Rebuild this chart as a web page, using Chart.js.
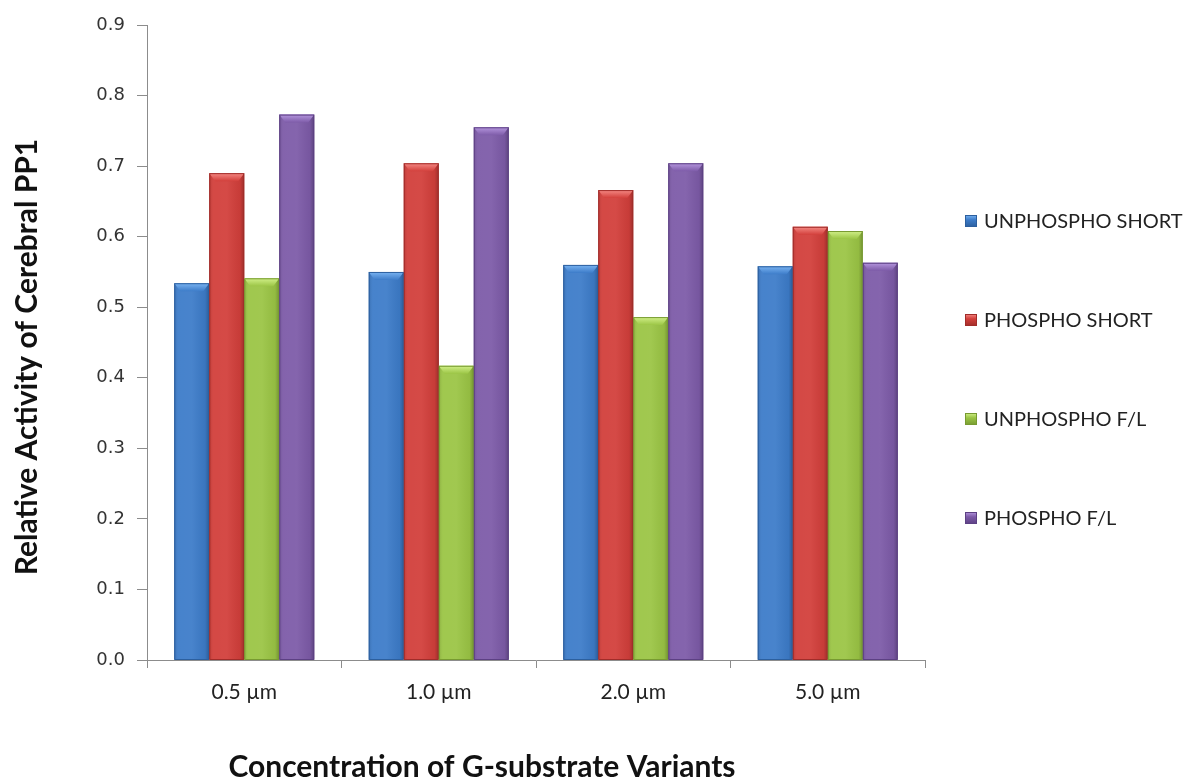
<!DOCTYPE html>
<html>
<head>
<meta charset="utf-8">
<script src="https://cdn.jsdelivr.net/npm/chart.js@4/dist/chart.umd.min.js"></script>
<style>
  html, body { margin: 0; padding: 0; background: #ffffff; }
  #wrap { width: 1189px; height: 780px; position: relative; }
</style>
</head>
<body>
<div id="wrap"><canvas id="c" width="1189" height="780"></canvas></div>
<script>
// Concentrations on the x axis
const categories = ['0.5 \u00b5m', '1.0 \u00b5m', '2.0 \u00b5m', '5.0 \u00b5m'];

// Relative activity of cerebral PP1 for each G-substrate variant
const unphosphoShort = [0.534, 0.550, 0.560, 0.558];
const phosphoShort   = [0.690, 0.704, 0.666, 0.614];
const unphosphoFL    = [0.541, 0.417, 0.486, 0.608];
const phosphoFL      = [0.773, 0.755, 0.704, 0.563];

const seriesNames = ['UNPHOSPHO SHORT', 'PHOSPHO SHORT', 'UNPHOSPHO F/L', 'PHOSPHO F/L'];
const yTicks = [0, 0.1, 0.2, 0.3, 0.4, 0.5, 0.6, 0.7, 0.8, 0.9];

const xAxisTitle = 'Concentration of G-substrate Variants';
const yAxisTitle = 'Relative Activity of Cerebral PP1';

const palette = [
  { base: '#3d7cc9', light: '#7ab4f2', dark: '#2c5f9e' },
  { base: '#d23f3b', light: '#f58a85', dark: '#a02c29' },
  { base: '#9bc545', light: '#d2f08a', dark: '#779a31' },
  { base: '#7d5ba8', light: '#b596de', dark: '#5c4083' }
];

// Beveled look for each bar: dark side edges and a lighter top chamfer
const bevelPlugin = {
  id: 'bevel',
  afterDatasetsDraw(chart) {
    const ctx = chart.ctx;
    chart.data.datasets.forEach((ds, di) => {
      const meta = chart.getDatasetMeta(di);
      const col = palette[di];
      meta.data.forEach(bar => {
        const p = bar.getProps(['x', 'y', 'base', 'width'], true);
        const l = p.x - p.width / 2, r = p.x + p.width / 2;
        const t = p.y, b = p.base;
        const bev = 6;
        ctx.save();
        const g = ctx.createLinearGradient(l, 0, r, 0);
        g.addColorStop(0, 'rgba(0,0,0,0.12)');
        g.addColorStop(0.12, 'rgba(255,255,255,0.05)');
        g.addColorStop(0.5, 'rgba(255,255,255,0.06)');
        g.addColorStop(0.88, 'rgba(0,0,0,0.05)');
        g.addColorStop(1, 'rgba(0,0,0,0.25)');
        ctx.fillStyle = g;
        ctx.fillRect(l, t, r - l, b - t);
        ctx.beginPath();
        ctx.moveTo(l, t);
        ctx.lineTo(r, t);
        ctx.lineTo(r - bev, t + bev + 2);
        ctx.lineTo(l + bev, t + bev + 2);
        ctx.closePath();
        const tg = ctx.createLinearGradient(0, t, 0, t + bev + 2);
        tg.addColorStop(0, col.light);
        tg.addColorStop(1, col.base);
        ctx.fillStyle = tg;
        ctx.fill();
        ctx.strokeStyle = col.dark;
        ctx.lineWidth = 1;
        ctx.strokeRect(l + 0.5, t + 0.5, r - l - 1, b - t - 0.5);
        ctx.restore();
      });
    });
  }
};

// Legend drawn at the right of the plot
const sideLegend = {
  id: 'sideLegend',
  afterDraw(chart, args, opts) {
    const ctx = chart.ctx;
    const x = chart.chartArea.right + opts.offsetX;
    ctx.save();
    ctx.font = opts.font;
    ctx.textBaseline = 'middle';
    chart.data.datasets.forEach((ds, i) => {
      const y = opts.top + i * opts.spacing;
      const col = palette[i];
      const s = 12;
      const g = ctx.createLinearGradient(0, y - s / 2, 0, y + s / 2);
      g.addColorStop(0, col.light);
      g.addColorStop(0.4, col.base);
      g.addColorStop(1, col.dark);
      ctx.fillStyle = g;
      ctx.fillRect(x, y - s / 2, s, s);
      ctx.strokeStyle = col.dark;
      ctx.lineWidth = 1;
      ctx.strokeRect(x + 0.5, y - s / 2 + 0.5, s - 1, s - 1);
      ctx.fillStyle = '#222222';
      ctx.fillText(ds.label, x + s + 7, y + 1);
    });
    ctx.restore();
  }
};

// Axis titles, placed in the space reserved by the scales
const axisTitles = {
  id: 'axisTitles',
  afterDraw(chart, args, opts) {
    const ctx = chart.ctx;
    ctx.save();
    ctx.font = opts.font;
    ctx.fillStyle = opts.color;
    ctx.textAlign = 'center';
    ctx.textBaseline = 'alphabetic';
    ctx.fillText(opts.xText, opts.xTitleX, opts.xTitleBaseline);
    ctx.translate(opts.yTitleBaseline, opts.yTitleY);
    ctx.rotate(-Math.PI / 2);
    ctx.fillText(opts.yText, 0, 0);
    ctx.restore();
  }
};

const seriesValues = [unphosphoShort, phosphoShort, unphosphoFL, phosphoFL];

new Chart(document.getElementById('c'), {
  type: 'bar',
  data: {
    labels: categories,
    datasets: seriesValues.map((vals, i) => ({
      label: seriesNames[i],
      data: vals,
      backgroundColor: palette[i].base,
      borderWidth: 0,
      barPercentage: 1.0,
      categoryPercentage: 0.72
    }))
  },
  options: {
    responsive: false,
    animation: false,
    layout: { padding: { left: 13, right: 264, top: 25, bottom: 0 } },
    plugins: {
      legend: { display: false },
      tooltip: { enabled: false },
      sideLegend: { offsetX: 40, top: 221, spacing: 99, font: '20px Lato' },
      axisTitles: {
        xText: xAxisTitle,
        yText: yAxisTitle,
        font: 'bold 30px Lato',
        color: '#111111',
        xTitleX: 482,
        xTitleBaseline: 777,
        yTitleY: 357,
        yTitleBaseline: 37
      }
    },
    scales: {
      x: {
        afterFit(scale) { scale.height = 120; },
        grid: { drawOnChartArea: false, drawTicks: true, tickLength: 8, color: '#8c8c8c', offset: true },
        border: { color: '#8c8c8c', width: 1 },
        ticks: { color: '#222222', font: { family: 'Lato', size: 21 }, padding: 12 }
      },
      y: {
        min: 0,
        max: 0.9,
        afterFit(scale) { scale.width = 134; },
        afterBuildTicks(scale) { scale.ticks = yTicks.map(v => ({ value: v })); },
        grid: { drawOnChartArea: false, drawTicks: true, tickLength: 10, color: '#8c8c8c' },
        border: { color: '#8c8c8c', width: 1 },
        ticks: {
          color: '#333333',
          font: { family: 'DejaVu Sans', size: 18 },
          padding: 12,
          callback: v => Number(v).toFixed(1)
        }
      }
    }
  },
  plugins: [bevelPlugin, sideLegend, axisTitles]
});
</script>
</body>
</html>
